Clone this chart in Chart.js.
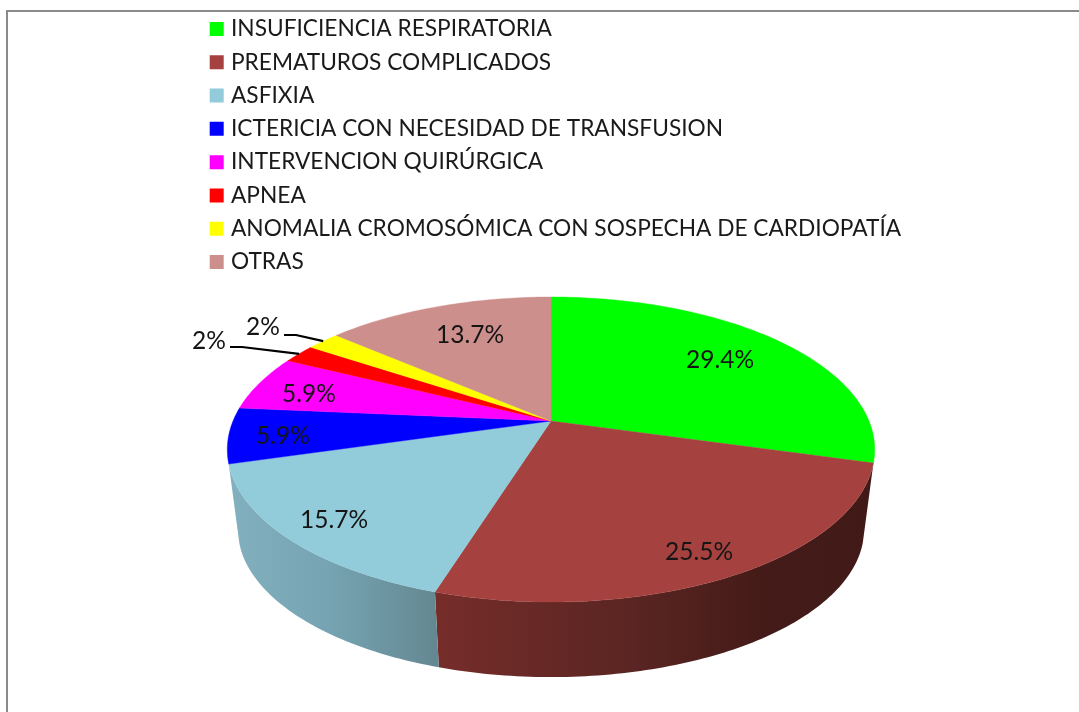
<!DOCTYPE html>
<html><head><meta charset="utf-8">
<style>html,body{margin:0;padding:0;background:#fff}canvas{display:block}</style>
<script src="https://cdn.jsdelivr.net/npm/chart.js@4"></script>
</head><body><canvas id="c" width="1079" height="712"></canvas>
<script>
const categories = ["INSUFICIENCIA RESPIRATORIA","PREMATUROS COMPLICADOS","ASFIXIA","ICTERICIA CON NECESIDAD DE TRANSFUSION","INTERVENCION QUIRÚRGICA","APNEA","ANOMALIA CROMOSÓMICA CON SOSPECHA DE CARDIOPATÍA","OTRAS"];
const percentages = [29.4,25.5,15.7,5.9,5.9,2,2,13.7];
const sliceColors = ["#00ff00","#a5423f","#92cbda","#0000ff","#ff00ff","#ff0000","#ffff00","#cc8f8c"];

// look of the tilted pie
const FONT = "Lato";
const APEX_Y = 421, PERSPECTIVE = 0.187, TILT = 147.2/318;
const BASE_SCALE = 0.967, BASE_APEX_Y = 502;
const wallStops = {1:[[0,"#762d2a"],[0.45,"#5a2522"],[0.75,"#441b18"],[1,"#411a18"]],
                   2:[[0,"#83b0bf"],[0.5,"#76a3b1"],[1,"#648892"]]};
const labelOffsets = [[169,-61],[148,131],[-217,99],[-268,15],[-242,-27],[-342,-80],[-288,-94],[-81,-86]];
const leaderStart = {5:[230,347,242,347],6:[284,335,296,335]};

function project(el, theta, frac, base){
  const u=Math.sin(theta)*frac, v=-Math.cos(theta)*frac, w=1-PERSPECTIVE*v;
  const R=el.outerRadius, s=base?BASE_SCALE:1;
  return [el.x+s*R*u/w, (base?BASE_APEX_Y:APEX_Y)+s*R*TILT*v/w];
}
function rim(ctx, el, a0, a1, base, reverse, first){
  const n=Math.max(2,Math.ceil((a1-a0)*60));
  for(let i=0;i<=n;i++){
    const t=reverse?a1-(a1-a0)*i/n:a0+(a1-a0)*i/n;
    const p=project(el,t,1,base);
    if(first&&i===0)ctx.moveTo(p[0],p[1]);else ctx.lineTo(p[0],p[1]);
  }
}
const tiltedPie = {
  id:"tiltedPie",
  afterLayout(chart){ chart.legend.top=7; chart.legend.right=chart.width; },
  beforeDraw(chart){
    const ctx=chart.ctx;
    ctx.save();ctx.strokeStyle="#8a8a8a";ctx.lineWidth=2;
    ctx.beginPath();ctx.moveTo(7,712);ctx.lineTo(7,11);ctx.lineTo(1079,11);ctx.stroke();ctx.restore();
  },
  beforeDatasetsDraw(chart){
    const ctx=chart.ctx, arcs=chart.getDatasetMeta(0).data;
    const th=a=>a+Math.PI/2;
    ctx.save();
    // side walls
    arcs.forEach((el,i)=>{
      const stops=wallStops[i]; if(!stops)return;
      const a0=th(el.startAngle),a1=th(el.endAngle);
      const p0=project(el,a0,1,false),p1=project(el,a1,1,false);
      const g=ctx.createLinearGradient(Math.min(p0[0],p1[0]),0,Math.max(p0[0],p1[0]),0);
      stops.forEach(s=>g.addColorStop(s[0],s[1]));
      ctx.fillStyle=g;
      ctx.beginPath();rim(ctx,el,a0,a1,false,false,true);rim(ctx,el,a0,a1,true,true,false);ctx.closePath();ctx.fill();
    });
    // top face
    arcs.forEach((el,i)=>{
      const a0=th(el.startAngle),a1=th(el.endAngle);
      ctx.fillStyle=sliceColors[i];ctx.strokeStyle=sliceColors[i];ctx.lineWidth=0.4;
      ctx.beginPath();ctx.moveTo(el.x,APEX_Y);rim(ctx,el,a0,a1,false,false,false);ctx.closePath();ctx.fill();ctx.stroke();
    });
    // value labels
    ctx.font="24.5px "+FONT;ctx.textAlign="center";ctx.textBaseline="middle";ctx.fillStyle="#151515";
    arcs.forEach((el,i)=>{
      ctx.fillText(percentages[i]+"%",el.x+labelOffsets[i][0],APEX_Y+labelOffsets[i][1]);
      const l=leaderStart[i];
      if(l){
        const e=project(el,th((el.startAngle+el.endAngle)/2),1,false);
        ctx.strokeStyle="#000";ctx.lineWidth=2.2;ctx.lineJoin="round";
        ctx.beginPath();ctx.moveTo(l[0],l[1]);ctx.lineTo(l[2],l[3]);ctx.lineTo(e[0],e[1]);ctx.stroke();
      }
    });
    ctx.restore();
    return false;
  }
};
new Chart(document.getElementById("c"),{
  type:"pie",
  data:{labels:categories,datasets:[{data:percentages,backgroundColor:sliceColors,borderWidth:0}]},
  options:{
    responsive:false,animation:false,radius:318,
    layout:{padding:{left:203.15,right:180.15,top:0,bottom:0}},
    plugins:{
      tooltip:{enabled:false},
      legend:{
        position:"chartArea",align:"start",
        labels:{
          boxWidth:5.9,boxHeight:5.9,padding:10.6,color:"#1a1a1a",
          font:{family:FONT,size:22.7},
          generateLabels(chart){
            return Chart.overrides.doughnut.plugins.legend.labels.generateLabels(chart).map((it,i)=>
              Object.assign(it,{fillStyle:sliceColors[i],strokeStyle:sliceColors[i],lineWidth:8.1}));
          }
        }
      }
    }
  },
  plugins:[tiltedPie]
});
</script></body></html>
